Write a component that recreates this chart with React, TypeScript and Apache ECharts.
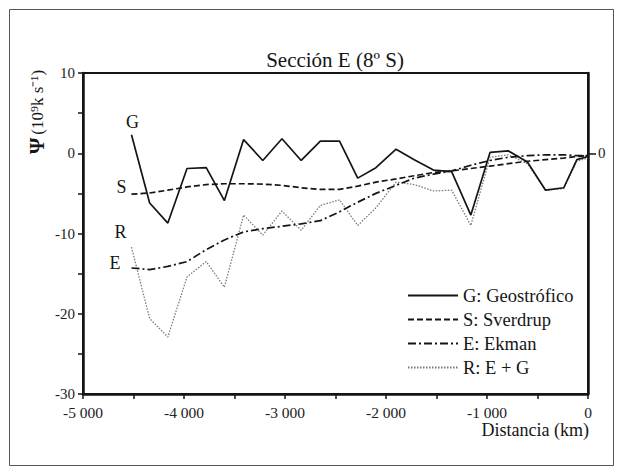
import React, { useEffect, useRef } from "react";
import * as echarts from "echarts";

// Distance of stations (km)
const stations = [-4520, -4340, -4160, -3970, -3780, -3600, -3410, -3220, -3030, -2840, -2650, -2460, -2280, -2100, -1900, -1720, -1530, -1350, -1160, -970, -790, -600, -420, -240, -110, 0];
// G: Geostrófico
const psiG = [2.3, -6.2, -8.7, -1.9, -1.8, -5.9, 1.7, -0.9, 1.8, -0.9, 1.5, 1.5, -3.1, -1.8, 0.5, -0.8, -2.1, -2.3, -7.7, 0.1, 0.3, -1.1, -4.6, -4.3, -0.8, -0.4];
// S: Sverdrup
const psiS = [-5.1, -4.95, -4.6, -4.2, -3.9, -3.8, -3.8, -3.85, -4.0, -4.3, -4.5, -4.5, -4.1, -3.6, -3.2, -2.8, -2.4, -2.2, -1.9, -1.6, -1.3, -1.0, -0.8, -0.6, -0.4, -0.3];
// E: Ekman
const psiE = [-14.3, -14.5, -14.1, -13.5, -12.0, -10.8, -9.8, -9.4, -9.1, -8.8, -8.4, -7.3, -6.1, -5.0, -4.0, -3.1, -2.6, -2.2, -1.5, -0.9, -0.5, -0.3, -0.2, -0.2, -0.3, -0.3];
// R: E + G
const psiR = [-11.7, -20.6, -22.9, -15.4, -13.5, -16.7, -7.7, -10.2, -7.2, -9.6, -6.5, -5.8, -9.0, -6.8, -3.6, -3.9, -4.7, -4.6, -9.0, -0.5, -0.2, -1.3, -4.6, -4.4, -1.0, -0.6];

const seriesNames = ["G: Geostrófico", "S: Sverdrup", "E: Ekman", "R: E + G"];
const inlineLabels = ["G", "S", "E", "R"];

const xLabelValues = [-5000, -4000, -3000, -2000, -1000, 0];
const xTickValues = [-5000, -4500, -4000, -3500, -3000, -2500, -2000, -1500, -1000, -500, 0];
const yLabelValues = [-30, -20, -10, 0, 10];
const yTickValues = [-30, -25, -20, -15, -10, -5, 0, 5, 10];

const titleText = "Sección E (8º S)";
const xName = "Distancia (km)";
const yName = "{psi|Ψ}(10⁹k s⁻¹)";

const FONT = "Liberation Serif, serif";
const INK = "#151515";

function fmtThousands(v: number): string {
  const s = Math.abs(v).toString();
  const body = s.length > 3 ? s.slice(0, s.length - 3) + " " + s.slice(s.length - 3) : s;
  return (v < 0 ? "-" : "") + body;
}

export default function App() {
  const ref = useRef<HTMLDivElement>(null);

  useEffect(() => {
    if (!ref.current) return;
    const chart = echarts.init(ref.current, undefined, { renderer: "svg" });

    const values = [psiG, psiS, psiE, psiR];
    const styles: any[] = [
      { color: INK, width: 1.7, type: "solid" },
      { color: INK, width: 1.7, type: [6, 3] },
      { color: INK, width: 1.7, type: [8, 3, 2, 3] },
      { color: "#7a7a7a", width: 1.3, type: [1.5, 1.5] },
    ];
    const labelPlace: any[] = [
      { position: "top", offset: [1, 1] },
      { position: "left", offset: [0, -7] },
      { position: "left", offset: [-6, -5] },
      { position: "left", offset: [0, -15] },
    ];

    const series = values.map((vals, i) => ({
      name: seriesNames[i],
      type: "line",
      data: stations.map((x, j) => [x, vals[j]]),
      symbol: "none",
      lineStyle: styles[i],
      itemStyle: { color: styles[i].color },
      z: 10 - i,
      markPoint: {
        symbol: "circle",
        symbolSize: 0,
        silent: true,
        itemStyle: { color: "transparent" },
        label: {
          show: true,
          formatter: inlineLabels[i],
          color: INK,
          fontFamily: FONT,
          fontSize: 18,
          distance: 5,
          ...labelPlace[i],
        },
        data: [{ coord: [stations[0], vals[0]] }],
      },
    }));

    const option: any = {
      animation: false,
      backgroundColor: "#ffffff",
      textStyle: { fontFamily: FONT },
      title: {
        text: titleText,
        left: 335,
        top: 49,
        padding: 0,
        textAlign: "center",
        textStyle: { fontFamily: FONT, fontSize: 21, fontWeight: "normal", color: INK },
      },
      legend: {
        orient: "vertical",
        left: 407,
        top: 286,
        padding: 0,
        itemWidth: 50,
        itemHeight: 14,
        itemGap: 5,
        itemStyle: { opacity: 0 },
        textStyle: { fontFamily: FONT, fontSize: 18.5, color: INK, lineHeight: 18 },
        data: seriesNames,
      },
      grid: {
        left: 83,
        right: 32,
        top: 73,
        bottom: 78,
        show: true,
        borderColor: INK,
        borderWidth: 2,
        backgroundColor: "transparent",
      },
      xAxis: {
        type: "value",
        min: -5000,
        max: 0,
        interval: 1000,
        name: xName,
        nameLocation: "end",
        nameGap: 1,
        nameTextStyle: {
          fontFamily: FONT,
          fontSize: 18,
          color: INK,
          align: "right",
          verticalAlign: "top",
          padding: [27, 0, 0, 0],
        },
        axisLine: { onZero: false, lineStyle: { color: INK, width: 2.5 } },
        axisTick: { customValues: xTickValues, length: 5, lineStyle: { color: INK, width: 1.5 } },
        axisLabel: {
          customValues: xLabelValues,
          formatter: (v: number) => fmtThousands(v),
          margin: 10,
          fontFamily: FONT,
          fontSize: 15.5,
          color: "#222",
        },
        splitLine: { show: false },
      },
      yAxis: [
        {
          type: "value",
          min: -30,
          max: 10,
          interval: 10,
          axisLine: { show: true, onZero: false, lineStyle: { color: INK, width: 2.5 } },
          axisTick: { show: true, customValues: yTickValues, length: 5, lineStyle: { color: INK, width: 1.5 } },
          axisLabel: { customValues: yLabelValues, margin: 8, fontFamily: FONT, fontSize: 15, color: "#222" },
          splitLine: { show: false },
        },
        {
          type: "value",
          position: "right",
          min: -30,
          max: 10,
          interval: 10,
          axisLine: { show: true, onZero: false, lineStyle: { color: INK, width: 2.5 } },
          axisTick: { show: true, customValues: [0], length: 8, lineStyle: { color: INK, width: 1.5 } },
          axisLabel: { customValues: [0], margin: 10, fontFamily: FONT, fontSize: 15, color: "#222" },
          splitLine: { show: false },
        },
      ],
      graphic: [
        {
          type: "rect",
          silent: true,
          shape: { x: 9.5, y: 9.5, width: 604, height: 456 },
          style: { fill: "none", stroke: "#555", lineWidth: 1 },
          z: -10,
        },
        {
          type: "text",
          x: 37,
          y: 112,
          rotation: Math.PI / 2,
          silent: true,
          style: {
            text: yName,
            fill: INK,
            fontFamily: FONT,
            fontSize: 17,
            align: "center",
            verticalAlign: "middle",
            rich: {
              psi: { fontFamily: FONT, fontSize: 21, fontWeight: "bold", fill: INK, padding: [0, 3, 0, 0] },
            },
          },
        },
      ],
      series,
    };

    chart.setOption(option);
    return () => chart.dispose();
  }, []);

  return (
    <div
      ref={ref}
      style={{ position: "fixed", left: 0, top: 0, width: 620, height: 472, background: "#fff" }}
    />
  );
}
